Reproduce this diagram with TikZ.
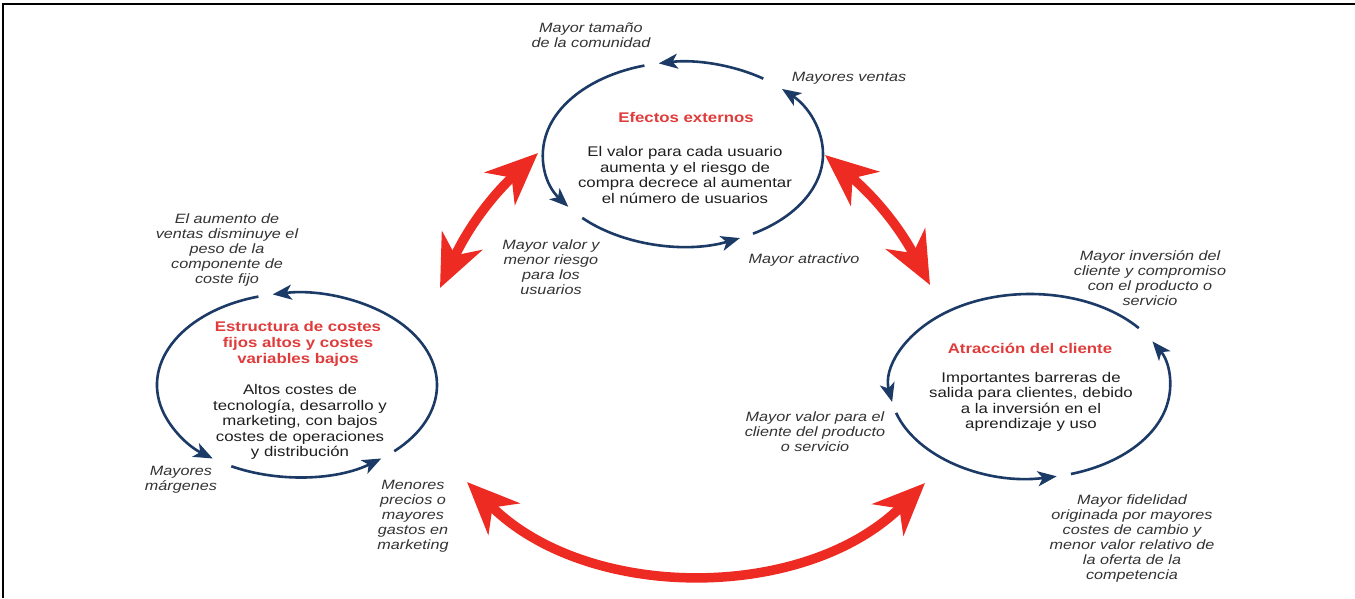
\documentclass[tikz,border=0pt]{standalone}
\usepackage{fontspec}
\setmainfont{Liberation Sans}[FakeStretch=1.2]
\usetikzlibrary{arrows.meta}
\definecolor{navy}{HTML}{1B3A66}
\definecolor{ttlred}{HTML}{E03C3C}
\definecolor{arrred}{HTML}{EE2B22}
\definecolor{labgrey}{HTML}{333333}
\definecolor{bodyc}{HTML}{1E1E1E}
\newcommand\myarc[3]{\draw[bluearc] ([shift={(#2:140pt and 92pt)}]#1) arc[start angle=#2,end angle=#3,x radius=140pt,y radius=92pt];}
\begin{document}
\begin{tikzpicture}[x=1pt,y=1pt,
 bluearc/.style={draw=navy, line width=2.6pt, -{Stealth[length=19pt,width=15pt,inset=5pt]}},
 redarr/.style={draw=arrred, line width=9.5pt, {Stealth[length=52pt,width=44pt,inset=16pt]}-{Stealth[length=52pt,width=44pt,inset=16pt]}},
 lab/.style={font=\fontsize{13.5}{15}\selectfont\itshape, text=labgrey, align=center, inner sep=0pt},
 ttl/.style={font=\fontsize{14}{16}\selectfont\bfseries, text=ttlred, align=center, inner sep=0pt},
 body/.style={font=\fontsize{14}{15.5}\selectfont, text=bodyc, align=center, inner sep=0pt}]
\useasboundingbox (0,0) rectangle (1355,-598);
\fill[white] (0,0) rectangle (1355,-598);
% frame
\coordinate (fbl) at (2.8,-598);
\coordinate (ftl) at (2.8,-3.7);
\coordinate (ftr) at (1355,-3.7);
\draw[line width=2.2pt] (fbl) -- (ftl) -- (ftr);
% ellipse centres
\coordinate (cT) at (683,-154);
\coordinate (cL) at (297,-385);
\coordinate (cR) at (1030,-386);
% top cycle
\myarc{cT}{55}{100}
\myarc{cT}{106}{215}
\myarc{cT}{224}{294}
\myarc{cT}{300}{405}
% left cycle
\myarc{cL}{106}{233}
\myarc{cL}{242}{307}
\myarc{cL}{314}{460}
% right cycle
\myarc{cR}{39}{190}
\myarc{cR}{197}{281}
\myarc{cR}{287}{389}
% red double arrows
\coordinate (la1) at (440,-288);
\coordinate (la2) at (538,-153);
\draw[redarr] (la1) to[bend left=11] (la2);
\coordinate (ra1) at (825,-155);
\coordinate (ra2) at (930,-285);
\draw[redarr] (ra1) to[bend left=11] (ra2);
\coordinate (ba1) at (467,-482);
\coordinate (ba2) at (925,-483);
\draw[redarr] (ba1) .. controls (587,-602) and (805,-602) .. (ba2);
% titles and bodies
\node[ttl] (tT) at (686,-117) {Efectos externos};
\node[body] (bT) at (685,-175) {El valor para cada usuario\\aumenta y el riesgo de\\compra decrece al aumentar\\el número de usuarios};
\node[ttl] (tL) at (298,-344) {Estructura de costes\\fijos altos y costes\\variables bajos};
\node[body] (bL) at (300,-422) {Altos costes de\\tecnología, desarrollo y\\marketing, con bajos\\costes de operaciones\\y distribución};
\node[ttl] (tR) at (1030,-348) {Atracción del cliente};
\node[body] (bR) at (1031,-402) {Importantes barreras de\\salida para clientes, debido\\a la inversión en el\\aprendizaje y uso};
% labels
\node[lab] (l1) at (591,-35) {Mayor tamaño\\de la comunidad};
\node[lab] (l2) at (849,-78) {Mayores ventas};
\node[lab] (l3) at (551,-267) {Mayor valor y\\menor riesgo\\para los\\usuarios};
\node[lab] (l4) at (804,-260) {Mayor atractivo};
\node[lab] (l5) at (227,-250) {El aumento de\\ventas disminuye el\\peso de la\\componente de\\coste fijo};
\node[lab] (l6) at (181,-480) {Mayores\\márgenes};
\node[lab] (l7) at (413,-516) {Menores\\precios o\\mayores\\gastos en\\marketing};
\node[lab] (l8) at (1150,-278) {Mayor inversión del\\cliente y compromiso\\con el producto o\\servicio};
\node[lab] (l9) at (815,-432) {Mayor valor para el\\cliente del producto\\o servicio};
\node[lab] (l10) at (1132,-538) {Mayor fidelidad\\originada por mayores\\costes de cambio y\\menor valor relativo de\\la oferta de la\\competencia};
\end{tikzpicture}
\end{document}
